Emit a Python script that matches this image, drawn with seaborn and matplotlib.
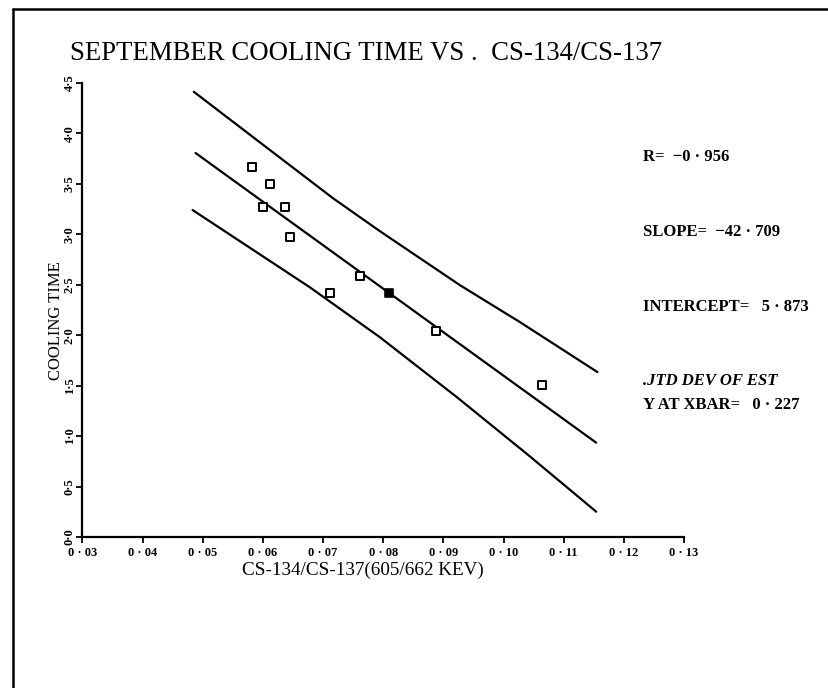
import matplotlib
matplotlib.use("Agg")
import matplotlib.pyplot as plt
from matplotlib.lines import Line2D
import seaborn as sns
import pandas as pd

# ---- data ----
ratio = [0.0581, 0.0612, 0.0600, 0.0637, 0.0645, 0.0712, 0.0762, 0.0888, 0.1064]
cooling = [3.67, 3.50, 3.27, 3.27, 2.97, 2.42, 2.59, 2.04, 1.51]
mean_x = [0.0810]
mean_y = [2.42]

fit_x = [0.0488, 0.1154]
fit_y = [3.806, 0.935]

upper_x = [0.0485, 0.0608, 0.0716, 0.0794, 0.0927, 0.1027, 0.1156]
upper_y = [4.413, 3.852, 3.360, 3.033, 2.498, 2.131, 1.635]

lower_x = [0.0483, 0.0678, 0.0794, 0.0922, 0.1043, 0.1154]
lower_y = [3.241, 2.475, 1.982, 1.388, 0.803, 0.251]

xticks = [0.03, 0.04, 0.05, 0.06, 0.07, 0.08, 0.09, 0.10, 0.11, 0.12, 0.13]
xticklabels = ["0 · 03", "0 · 04", "0 · 05", "0 · 06", "0 · 07", "0 · 08",
               "0 · 09", "0 · 10", "0 · 11", "0 · 12", "0 · 13"]
yticks = [0.0, 0.5, 1.0, 1.5, 2.0, 2.5, 3.0, 3.5, 4.0, 4.5]
yticklabels = ["0·0", "0·5", "1·0", "1·5", "2·0", "2·5", "3·0", "3·5", "4·0", "4·5"]

title = "SEPTEMBER COOLING TIME VS .  CS-134/CS-137"
xlabel = "CS-134/CS-137(605/662 KEV)"
ylabel = "COOLING TIME"
stats = [("R=  −0 · 956", 157, "normal"),
         ("SLOPE=  −42 · 709", 232, "normal"),
         ("INTERCEPT=   5 · 873", 307, "normal"),
         (".JTD DEV OF EST", 381, "italic"),
         ("Y AT XBAR=   0 · 227", 405, "normal")]

# ---- style ----
sns.set_style("ticks")
plt.rcParams["font.family"] = ["Liberation Serif", "DejaVu Serif"]
plt.rcParams["text.color"] = "black"
plt.rcParams["axes.labelcolor"] = "black"

W, H = 829, 688
fig = plt.figure(figsize=(W / 100, H / 100), dpi=100)
ax = fig.add_axes([82.5 / W, 1 - 537 / H, (684 - 82.5) / W, (537 - 83) / H])

pts = pd.DataFrame({"x": ratio, "y": cooling})
sns.lineplot(x=fit_x, y=fit_y, ax=ax, color="black", lw=1.6)
sns.lineplot(x=upper_x, y=upper_y, ax=ax, color="black", lw=1.6)
sns.lineplot(x=lower_x, y=lower_y, ax=ax, color="black", lw=1.6)
sns.scatterplot(data=pts, x="x", y="y", ax=ax, marker="s", s=28,
                facecolor="white", edgecolor="black", linewidth=1.4, zorder=5)
sns.scatterplot(x=mean_x, y=mean_y, ax=ax, marker="s", s=30,
                color="black", edgecolor="black", linewidth=1.2, zorder=6)

ax.set_xlim(0.03, 0.13)
ax.set_ylim(0, 4.5)
sns.despine(ax=ax)
for sp in ("left", "bottom"):
    ax.spines[sp].set_linewidth(1.6)
    ax.spines[sp].set_color("black")

ax.set_xticks(xticks)
ax.set_xticklabels(xticklabels, fontsize=9, fontweight="bold")
ax.set_yticks(yticks)
ax.set_yticklabels(yticklabels, fontsize=9, fontweight="bold", rotation=90,
                   va="center")
ax.tick_params(axis="both", direction="out", length=4, width=1.3, color="black",
               labelcolor="black")
ax.tick_params(axis="x", pad=3)
ax.tick_params(axis="y", pad=1)

ax.set_xlabel(xlabel, fontsize=13.8)
ax.xaxis.set_label_coords((363 - 82.5) / (684 - 82.5), -(570 - 537) / (537 - 83))
ax.xaxis.label.set_va("center")
ax.set_ylabel(ylabel, fontsize=12)
ax.yaxis.set_label_coords(-(82.5 - 56) / (684 - 82.5), (537 - 321) / (537 - 83))
ax.yaxis.label.set_va("center")

fig.text(70 / W, 1 - 54 / H, title, fontsize=19.3, ha="left", va="center")

for txt, yy, st in stats:
    fig.text(643 / W, 1 - yy / H, txt, fontsize=12, fontweight="bold",
             style=st, ha="left", va="center")

# page border from the scan
fig.add_artist(Line2D([13 / W, 13 / W], [0, 1 - 9 / H], color="black", lw=1.8))
fig.add_artist(Line2D([13 / W, 1], [1 - 9 / H, 1 - 9 / H], color="black", lw=1.8))

fig.savefig("out.png", dpi=100)
